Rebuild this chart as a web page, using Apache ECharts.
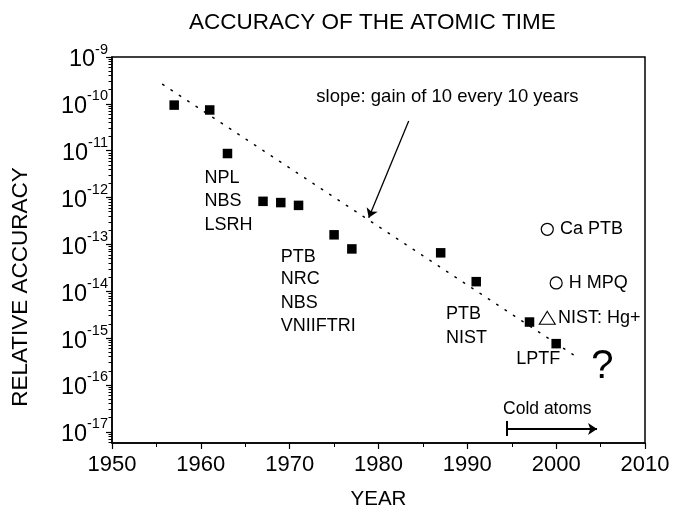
<!DOCTYPE html>
<html>
<head>
<meta charset="utf-8">
<script src="https://cdn.jsdelivr.net/npm/echarts@6/dist/echarts.min.js"></script>
<style>
  html, body { margin: 0; padding: 0; background: #fff; }
  #chart { width: 686px; height: 515px; }
</style>
</head>
<body>
<div id="chart"></div>
<script>
// Caesium primary standards: year and relative accuracy
const csYears = [1957, 1961, 1963, 1967, 1969, 1971, 1975, 1977, 1987, 1991, 1997, 2000];
const csValues = [9.4e-11, 7.4e-11, 8.7e-12, 8.3e-13, 7.8e-13, 6.8e-13, 1.6e-13, 8e-14, 6.6e-14, 1.6e-14, 2.2e-15, 7.6e-16];

// Optical standards
const optNames = ['Ca PTB', 'H MPQ'];
const optYears = [1999, 2000];
const optValues = [2.1e-13, 1.5e-14];
const ionName = 'NIST: Hg+';
const ionYear = 1999;
const ionValue = 2.7e-15;

// Trend: gain of 10 every 10 years
const trendYears = [1955.7, 2002.1];
const trendValues = [2.6e-10, 4.2e-16];

// Laboratory names
const labNames = ['NPL', 'NBS', 'LSRH', 'PTB', 'NRC', 'NBS', 'VNIIFTRI', 'PTB', 'NIST', 'LPTF'];
const labYears = [1960.4, 1960.4, 1960.4, 1969.0, 1969.0, 1969.0, 1969.0, 1987.6, 1987.6, 1995.5];
const labValues = [2.57e-12, 8.3e-13, 2.6e-13, 5.5e-14, 1.8e-14, 5.6e-15, 1.8e-15, 3.2e-15, 1e-15, 3.5e-16];

// Axis ticks
const yearTicks = [1950, 1960, 1970, 1980, 1990, 2000, 2010];
const decadeExps = [-17, -16, -15, -14, -13, -12, -11, -10, -9];

const FONT = '"Liberation Sans", Arial, sans-serif';

const majorValues = decadeExps.map(e => Math.pow(10, e));
const minorValues = [];
decadeExps.forEach(e => {
  for (let k = 2; k <= 9; k++) minorValues.push(k * Math.pow(10, e - 1));
});

const yMin = Math.pow(10, -17.24);
const yMax = 1e-9;

const chart = echarts.init(document.getElementById('chart'), null, { renderer: 'canvas' });

const option = {
  animation: false,
  backgroundColor: '#fff',
  title: {
    text: 'ACCURACY OF THE ATOMIC TIME',
    left: 184, top: 6,
    textStyle: { fontFamily: FONT, fontSize: 22.5, fontWeight: 'normal', color: '#000' }
  },
  graphic: [
    {
      type: 'text', x: 21, y: 287, rotation: Math.PI / 2,
      style: {
        text: 'RELATIVE ACCURACY', fontFamily: FONT, fontSize: 22.5, fill: '#000',
        align: 'center', verticalAlign: 'middle'
      }
    }
  ],
  grid: {
    left: 112, right: 41, top: 57, bottom: 72,
    show: true, borderColor: '#000', borderWidth: 1.5, backgroundColor: 'transparent'
  },
  xAxis: {
    type: 'value', min: 1950, max: 2010, interval: 10,
    name: 'YEAR', nameLocation: 'middle', nameGap: 46,
    nameTextStyle: { fontFamily: FONT, fontSize: 20.5, color: '#000' },
    axisLine: { lineStyle: { color: '#000', width: 1.5 } },
    axisTick: { show: true, length: 6, lineStyle: { color: '#000', width: 1.2 } },
    minorTick: { show: true, splitNumber: 2, length: 4, lineStyle: { color: '#000', width: 1 } },
    splitLine: { show: false },
    axisLabel: {
      fontFamily: FONT, fontSize: 22, color: '#000', margin: 11,
      customValues: yearTicks,
      formatter: v => String(v)
    }
  },
  yAxis: [
    {
      type: 'log', min: yMin, max: yMax,
      axisLine: { show: true, lineStyle: { color: '#000', width: 1.5 } },
      axisTick: { show: true, length: 6, customValues: majorValues, lineStyle: { color: '#000', width: 1.2 } },
      splitLine: { show: false },
      axisLabel: {
        customValues: majorValues, margin: 4,
        formatter: v => '{b|10}{s|' + Math.round(Math.log10(v)) + '}',
        rich: {
          b: { fontFamily: FONT, fontSize: 23.5, color: '#000', verticalAlign: 'bottom', lineHeight: 30 },
          s: { fontFamily: FONT, fontSize: 14.5, color: '#000', verticalAlign: 'top', lineHeight: 30 }
        }
      }
    },
    {
      type: 'log', min: yMin, max: yMax, position: 'left',
      axisLine: { show: false },
      axisTick: { show: true, length: 3.5, customValues: minorValues, lineStyle: { color: '#000', width: 1 } },
      axisLabel: { show: false },
      splitLine: { show: false }
    }
  ],
  series: [
    {
      name: 'trend', type: 'line', symbol: 'none', silent: true,
      data: trendYears.map((y, i) => [y, trendValues[i]]),
      lineStyle: { color: '#000', width: 1.5, type: [1.5, 8.5], cap: 'round' }
    },
    {
      name: 'Cs', type: 'scatter', symbol: 'rect', symbolSize: 9.5,
      itemStyle: { color: '#000', opacity: 1 },
      data: csYears.map((y, i) => [y, csValues[i]])
    },
    {
      name: 'optical', type: 'scatter', symbol: 'circle', symbolSize: 12,
      itemStyle: { color: '#fff', borderColor: '#000', borderWidth: 1.2, opacity: 1 },
      label: {
        show: true, position: 'right', distance: 6,
        fontFamily: FONT, fontSize: 18, color: '#000',
        formatter: p => p.name
      },
      data: optYears.map((y, i) => ({ name: optNames[i], value: [y, optValues[i]] }))
    },
    {
      name: 'ion', type: 'scatter', symbol: 'triangle', symbolSize: [16, 13],
      itemStyle: { color: '#fff', borderColor: '#000', borderWidth: 1.1, opacity: 1 },
      label: {
        show: true, position: 'right', distance: 2,
        fontFamily: FONT, fontSize: 18, color: '#000',
        formatter: p => p.name
      },
      data: [{ name: ionName, value: [ionYear, ionValue] }]
    },
    {
      name: 'labs', type: 'scatter', symbolSize: 0, silent: true,
      itemStyle: { opacity: 1 },
      label: {
        show: true, position: [0, 0], align: 'left', verticalAlign: 'middle',
        fontFamily: FONT, fontSize: 18, color: '#000',
        formatter: p => p.name
      },
      data: labNames.map((n, i) => ({ name: n, value: [labYears[i], labValues[i]] }))
    },
    {
      name: 'notes', type: 'scatter', symbolSize: 0, silent: true,
      itemStyle: { opacity: 1 },
      label: {
        show: true, position: [0, 0], verticalAlign: 'middle',
        fontFamily: FONT, color: '#000',
        formatter: p => p.name
      },
      data: [
        { name: 'slope: gain of 10 every 10 years', value: [1973.0, 1.4e-10], label: { fontSize: 18.5, align: 'left' } },
        { name: 'Cold atoms', value: [1999.0, 3.0e-17], label: { fontSize: 17.5, align: 'center' } },
        { name: '?', value: [2005.2, 2.4e-16], label: { fontSize: 40, align: 'center' } }
      ]
    },
    {
      name: 'arrows', type: 'lines', coordinateSystem: 'cartesian2d', silent: true,
      symbol: ['none', 'arrow'], symbolSize: 9,
      lineStyle: { color: '#000', width: 1.3, opacity: 1 },
      data: [
        { coords: [[1983.4, 4.3e-11], [1978.9, 3.7e-13]] },
        { coords: [[1994.4, 1.15e-17], [2004.6, 1.15e-17]], lineStyle: { width: 2.2 } }
      ]
    },
    {
      name: 'bar', type: 'lines', coordinateSystem: 'cartesian2d', silent: true,
      symbol: ['none', 'none'],
      lineStyle: { color: '#000', width: 2, opacity: 1 },
      data: [{ coords: [[1994.4, 1.7e-17], [1994.4, 8.1e-18]] }]
    }
  ]
};

chart.setOption(option);
</script>
</body>
</html>
